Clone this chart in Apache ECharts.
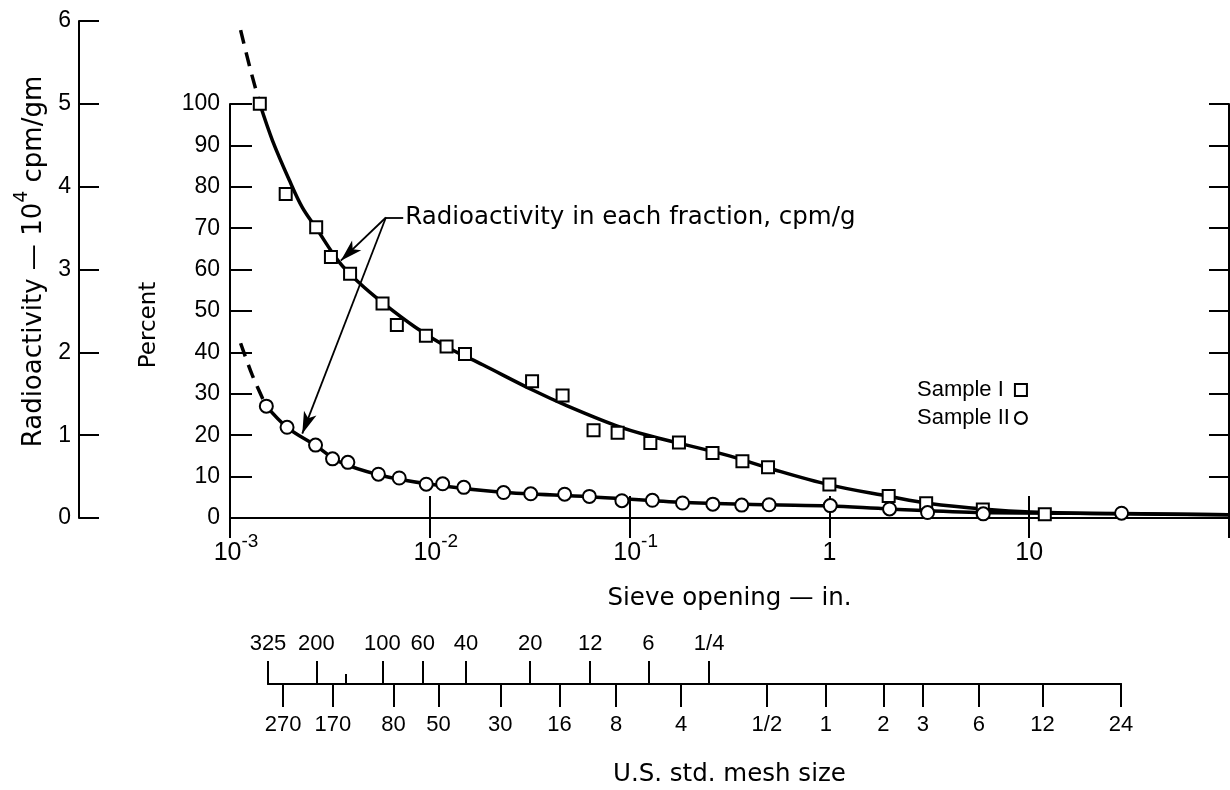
<!DOCTYPE html>
<html><head><meta charset="utf-8">
<script src="https://cdn.jsdelivr.net/npm/echarts@6/dist/echarts.min.js"></script>
<style>html,body{margin:0;padding:0;background:#fff}#c{width:1230px;height:790px}</style>
</head><body><div id="c"></div>
<script>
// ---- Sample I (squares): sieve opening (in.) and radioactivity (10^4 cpm/gm)
const sample1Opening = [0.00141, 0.0019, 0.0027, 0.0032, 0.00399, 0.0058, 0.00684, 0.00956, 0.01213, 0.0150, 0.0325, 0.0462, 0.066, 0.0871, 0.127, 0.1766, 0.26, 0.367, 0.493, 1.0, 1.98, 3.05, 5.86, 11.97];
const sample1Activity = [5.0, 3.91, 3.51, 3.15, 2.95, 2.59, 2.33, 2.2, 2.07, 1.98, 1.65, 1.48, 1.06, 1.03, 0.906, 0.91, 0.786, 0.684, 0.614, 0.403, 0.266, 0.179, 0.103, 0.046];
// ---- Sample II (circles)
const sample2Opening = [0.00152, 0.00193, 0.00268, 0.00326, 0.00389, 0.00553, 0.00703, 0.0096, 0.0116, 0.0148, 0.0234, 0.0320, 0.0473, 0.0629, 0.0915, 0.130, 0.184, 0.261, 0.364, 0.499, 1.01, 2.0, 3.1, 5.89, 29.0];
const sample2Activity = [1.35, 1.095, 0.88, 0.714, 0.672, 0.529, 0.483, 0.408, 0.413, 0.37, 0.307, 0.292, 0.287, 0.261, 0.209, 0.214, 0.181, 0.167, 0.156, 0.16, 0.15, 0.109, 0.066, 0.05, 0.058];
// ---- Fitted curves
const curve1DashOpening = [0.00113, 0.00126, 0.00141];
const curve1DashActivity = [5.89, 5.43, 5.0];
const curve1Opening = [0.00141, 0.00163, 0.00198, 0.0023, 0.0027, 0.00352, 0.00443, 0.0058, 0.0085, 0.0125, 0.0184, 0.0327, 0.0481, 0.0855, 0.1256, 0.316, 0.5, 1.0, 2.0, 3.17, 6.03, 10.2, 28.4, 100];
const curve1Activity = [5.0, 4.56, 4.08, 3.75, 3.5, 3.09, 2.84, 2.6, 2.3, 2.05, 1.85, 1.545, 1.36, 1.116, 0.993, 0.75, 0.6, 0.40, 0.26, 0.174, 0.105, 0.072, 0.05, 0.04];
const curve2DashOpening = [0.00113, 0.00129, 0.00151];
const curve2DashActivity = [2.11, 1.73, 1.36];
const curve2Opening = [0.00151, 0.00193, 0.00268, 0.00352, 0.00558, 0.00993, 0.0223, 0.0629, 0.1776, 0.5, 1.0, 2.0, 5.9, 29, 100];
const curve2Activity = [1.36, 1.095, 0.876, 0.68, 0.52, 0.41, 0.313, 0.257, 0.19, 0.16, 0.146, 0.109, 0.066, 0.055, 0.04];
// ---- Annotation (data coordinates)
const annCorner = [0.00603, 3.628];
const annDashEnd = [0.00736, 3.628];
const annArrow1 = [0.003585, 3.107];
const annArrow2 = [0.0023, 1.018];
const annText = 'Radioactivity in each fraction, cpm/g';
// ---- Mesh-size scale (positions expressed as sieve opening, in.)
const meshTopLabels = ['325', '200', '100', '60', '40', '20', '12', '6', '1/4'];
const meshTopOpenings = [0.00153, 0.00267, 0.00573, 0.00913, 0.0150, 0.0315, 0.0629, 0.123, 0.248];
const meshMinorOpenings = [0.00377];
const meshBottomLabels = ['270', '170', '80', '50', '30', '16', '8', '4', '1/2', '1', '2', '3', '6', '12', '24'];
const meshBottomOpenings = [0.00182, 0.00323, 0.0065, 0.01093, 0.0223, 0.0441, 0.0849, 0.1797, 0.483, 0.954, 1.85, 2.92, 5.57, 11.6, 28.7];

const FF = 'DejaVu Sans';
const NF = 'Liberation Sans';
const BLACK = '#000';
const pairs = (xs, ys) => xs.map((x, i) => [x, ys[i]]);
const lg = v => Math.log10(v);
const topMap = {}; meshTopOpenings.forEach((v, i) => topMap[lg(v).toFixed(4)] = meshTopLabels[i]);
const botMap = {}; meshBottomOpenings.forEach((v, i) => botMap[lg(v).toFixed(4)] = meshBottomLabels[i]);
const meshMin = lg(meshTopOpenings[0]);
const meshMax = lg(meshBottomOpenings[meshBottomOpenings.length - 1]);

const chart = echarts.init(document.getElementById('c'));
const axisLineStyle = {color: BLACK, width: 2};
const tickStyle = {color: BLACK, width: 2};

chart.setOption({
  animation: false,
  backgroundColor: '#fff',
  grid: [
    {left: 230, right: 1, top: 104, height: 414},
    {left: 230, right: 1, top: 21, height: 497},
    {left: 268, right: 109, top: 683, height: 1}
  ],
  legend: {
    data: [{name: 'Sample I', icon: 'rect'}, {name: 'Sample II', icon: 'circle'}],
    orient: 'vertical', left: 912, top: 374, align: 'right',
    itemWidth: 12, itemHeight: 12, itemGap: 6, selectedMode: false,
    formatter: name => (name === 'Sample I' ? name + ' ' : name),
    textStyle: {fontSize: 22, fontFamily: NF, color: BLACK}
  },
  xAxis: [
    {
      gridIndex: 0, type: 'log', logBase: 10, min: 0.001, max: 100, position: 'bottom',
      axisLine: {lineStyle: axisLineStyle},
      axisTick: {inside: true, length: 22, lineStyle: tickStyle},
      splitLine: {show: false},
      axisLabel: {
        margin: 14, showMinLabel: true, showMaxLabel: false, hideOverlap: false,
        formatter: v => {
          const e = Math.round(lg(v));
          if (e < 0) return '{bn|10}{s|' + e + '}';
          if (e === 0) return '{b|1}';
          if (e === 1) return '{b|10}';
          return '';
        },
        rich: {
          b: {fontSize: 25, fontFamily: NF, color: BLACK, lineHeight: 34, verticalAlign: 'bottom'},
          bn: {fontSize: 25, fontFamily: NF, color: BLACK, lineHeight: 34, verticalAlign: 'bottom', padding: [0, 0, 0, 12]},
          s: {fontSize: 19, fontFamily: NF, color: BLACK, lineHeight: 19, verticalAlign: 'top'}
        }
      },
      name: 'Sieve opening — in.', nameLocation: 'middle', nameGap: 68,
      nameTextStyle: {fontSize: 24.5, fontFamily: FF, color: BLACK}
    },
    {
      gridIndex: 0, type: 'log', logBase: 10, min: 0.001, max: 100, position: 'top',
      axisLine: {lineStyle: axisLineStyle},
      axisTick: {inside: true, length: 20, lineStyle: tickStyle},
      axisLabel: {show: false}, splitLine: {show: false}
    },
    {gridIndex: 1, type: 'log', logBase: 10, min: 0.001, max: 100, show: false},
    {
      gridIndex: 2, type: 'value', min: meshMin, max: meshMax, position: 'top',
      axisLine: {lineStyle: axisLineStyle},
      axisTick: {inside: false, length: 23, lineStyle: tickStyle, customValues: meshTopOpenings.map(lg)},
      axisLabel: {
        margin: 28, fontSize: 22, fontFamily: NF, color: BLACK, hideOverlap: false,
        customValues: meshTopOpenings.map(lg),
        formatter: v => topMap[Number(v).toFixed(4)] || ''
      },
      splitLine: {show: false}
    },
    {
      gridIndex: 2, type: 'value', min: meshMin, max: meshMax, position: 'bottom',
      axisLine: {lineStyle: axisLineStyle},
      axisTick: {inside: false, length: 23, lineStyle: tickStyle, customValues: meshBottomOpenings.map(lg)},
      axisLabel: {
        margin: 30, fontSize: 22, fontFamily: NF, color: BLACK, hideOverlap: false,
        customValues: meshBottomOpenings.map(lg),
        formatter: v => botMap[Number(v).toFixed(4)] || ''
      },
      splitLine: {show: false}
    },
    {
      gridIndex: 2, type: 'value', min: meshMin, max: meshMax, position: 'top',
      axisLine: {show: false},
      axisTick: {inside: false, length: 9, lineStyle: tickStyle, customValues: meshMinorOpenings.map(lg)},
      axisLabel: {show: false}, splitLine: {show: false}
    }
  ],
  yAxis: [
    {
      gridIndex: 0, type: 'value', min: 0, max: 100, interval: 10, position: 'left',
      axisLine: {show: true, lineStyle: axisLineStyle},
      axisTick: {show: true, inside: true, length: 22, lineStyle: tickStyle},
      axisLabel: {margin: 10, fontSize: 23, fontFamily: NF, color: BLACK},
      splitLine: {show: false},
      name: 'Percent', nameLocation: 'middle', nameRotate: 90, nameGap: 69,
      nameTextStyle: {fontSize: 23, fontFamily: FF, color: BLACK, padding: [0, 28, 0, 0]}
    },
    {
      gridIndex: 0, type: 'value', min: 0, max: 100, interval: 10, position: 'right',
      axisLine: {show: true, lineStyle: axisLineStyle},
      axisTick: {show: true, inside: true, length: 20, lineStyle: tickStyle},
      axisLabel: {show: false}, splitLine: {show: false}
    },
    {
      gridIndex: 1, type: 'value', min: 0, max: 6, interval: 1, position: 'left', offset: 151,
      axisLine: {show: true, lineStyle: axisLineStyle},
      axisTick: {show: true, inside: true, length: 20, lineStyle: tickStyle},
      axisLabel: {margin: 8, fontSize: 23, fontFamily: NF, color: BLACK},
      splitLine: {show: false},
      name: '{a|Radioactivity — 10}{s|4}{a| cpm/gm}', nameLocation: 'middle', nameRotate: 90, nameGap: 32,
      nameTextStyle: {
        padding: [0, 0, 0, 16],
        rich: {
          a: {fontSize: 26, fontFamily: FF, color: BLACK, lineHeight: 34, verticalAlign: 'bottom'},
          s: {fontSize: 19, fontFamily: FF, color: BLACK, lineHeight: 19, verticalAlign: 'top'}
        }
      }
    },
    {gridIndex: 2, type: 'value', show: false}
  ],
  series: [
    {
      type: 'line', xAxisIndex: 2, yAxisIndex: 2, data: pairs(curve1DashOpening, curve1DashActivity),
      showSymbol: false, smooth: 0.3, z: 2, silent: true,
      lineStyle: {color: BLACK, width: 3.5, type: [14, 9]}
    },
    {
      type: 'line', xAxisIndex: 2, yAxisIndex: 2, data: pairs(curve1Opening, curve1Activity),
      showSymbol: false, smooth: 0.35, z: 2, silent: true,
      lineStyle: {color: BLACK, width: 3.5},
      markLine: {
        silent: true, animation: false,
        symbol: ['none', 'arrow'], symbolSize: [10, 22],
        lineStyle: {color: BLACK, width: 1.8, type: 'solid'},
        label: {show: false},
        data: [
          [{coord: annCorner}, {coord: annArrow1}],
          [{coord: annCorner}, {coord: annArrow2}],
          [{coord: annCorner, symbol: 'none'},
           {coord: annDashEnd, symbol: 'none',
            label: {show: true, position: 'end', distance: 2, formatter: annText,
                    fontSize: 24.5, fontFamily: FF, color: BLACK}}]
        ]
      }
    },
    {
      type: 'line', xAxisIndex: 2, yAxisIndex: 2, data: pairs(curve2DashOpening, curve2DashActivity),
      showSymbol: false, smooth: 0.3, z: 2, silent: true,
      lineStyle: {color: BLACK, width: 3.5, type: [14, 9]}
    },
    {
      type: 'line', xAxisIndex: 2, yAxisIndex: 2, data: pairs(curve2Opening, curve2Activity),
      showSymbol: false, smooth: 0.35, z: 2, silent: true,
      lineStyle: {color: BLACK, width: 3.5}
    },
    {
      name: 'Sample I', type: 'scatter', xAxisIndex: 2, yAxisIndex: 2,
      data: pairs(sample1Opening, sample1Activity),
      symbol: 'rect', symbolSize: 12, z: 5,
      itemStyle: {color: '#fff', borderColor: BLACK, borderWidth: 2, opacity: 1}
    },
    {
      name: 'Sample II', type: 'scatter', xAxisIndex: 2, yAxisIndex: 2,
      data: pairs(sample2Opening, sample2Activity),
      symbol: 'circle', symbolSize: 13, z: 5,
      itemStyle: {color: '#fff', borderColor: BLACK, borderWidth: 2, opacity: 1}
    }
  ],
  graphic: [
    {type: 'text', left: 613, top: 762,
     style: {text: 'U.S. std. mesh size', fontSize: 24.5, fontFamily: FF, fill: BLACK}}
  ]
});
</script>
</body></html>
